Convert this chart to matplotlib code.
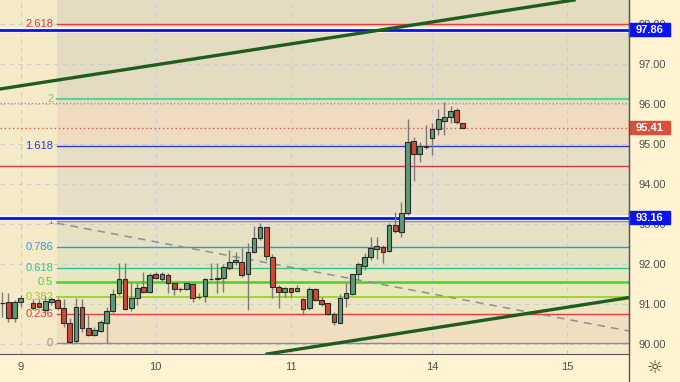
import matplotlib
matplotlib.use('Agg')
import matplotlib.pyplot as plt
from matplotlib.patches import Rectangle
from matplotlib.transforms import blended_transform_factory

plt.rcParams['font.family'] = ['Liberation Sans', 'DejaVu Sans']

# hourly candles (slot 4 is the session break)
slots = [i for i in range(76) if i != 4]
opens = [91.03, 91.05, 90.65, 91.05, 91.03, 91.03, 90.85, 91.05, 91.10, 90.90,
         90.53, 90.08, 90.93, 90.40, 90.23, 90.33, 90.53, 90.83, 91.28, 91.63,
         90.90, 91.15, 91.43, 91.30, 91.75, 91.63, 91.73, 91.53, 91.38, 91.38,
         91.50, 91.18, 91.20, 91.63, 91.65, 91.65, 91.90, 92.05, 92.05, 91.75,
         92.30, 92.65, 92.93, 92.18, 91.43, 91.30, 91.40, 91.33, 91.13, 90.90,
         91.38, 91.10, 91.03, 90.75, 90.53, 91.15, 91.25, 91.75, 91.95, 92.18,
         92.38, 92.43, 92.33, 92.98, 92.80, 93.28, 95.08, 94.75, 94.93, 95.15,
         95.38, 95.58, 95.68, 95.85, 95.53]
highs = [91.30, 91.28, 91.10, 91.23, 91.13, 91.13, 91.20, 91.18, 91.15, 91.13,
         90.65, 91.15, 91.13, 90.73, 90.43, 90.60, 90.93, 91.38, 92.03, 92.03,
         91.53, 91.53, 91.80, 91.78, 91.80, 91.80, 91.78, 91.53, 91.43, 91.55,
         91.53, 91.28, 91.65, 92.03, 92.03, 92.00, 92.35, 92.30, 92.40, 92.53,
         92.95, 93.03, 92.93, 92.25, 91.48, 91.43, 91.40, 91.48, 91.15, 91.43,
         91.40, 91.18, 91.03, 90.80, 91.25, 91.53, 91.75, 92.05, 92.28, 92.68,
         92.68, 92.48, 93.03, 93.30, 93.55, 95.63, 95.18, 95.05, 95.48, 95.53,
         95.88, 96.05, 95.95, 95.90, 95.53]
lows = [90.68, 90.55, 90.55, 90.93, 90.85, 90.90, 90.78, 90.98, 90.85, 90.43,
        90.03, 90.03, 90.30, 90.20, 90.20, 90.30, 90.03, 90.78, 91.23, 90.85,
        90.83, 90.98, 91.28, 91.28, 91.63, 91.58, 91.28, 91.23, 91.30, 91.35,
        91.05, 91.13, 91.05, 91.60, 91.28, 91.30, 91.85, 91.98, 91.68, 90.85,
        92.28, 92.60, 92.10, 91.15, 90.90, 91.18, 91.18, 91.30, 90.73, 90.85,
        91.08, 90.95, 90.73, 90.48, 90.53, 90.93, 91.23, 91.60, 91.85, 92.10,
        92.13, 92.03, 92.30, 92.78, 92.68, 93.23, 94.08, 94.55, 94.88, 94.73,
        95.23, 95.23, 95.53, 95.50, 95.41]
closes = [91.02, 90.65, 91.05, 91.15, 90.90, 90.93, 91.08, 91.13, 90.90, 90.53,
          90.05, 90.93, 90.40, 90.23, 90.35, 90.55, 90.83, 91.25, 91.63, 90.88,
          91.15, 91.40, 91.30, 91.73, 91.65, 91.75, 91.53, 91.38, 91.37, 91.53,
          91.15, 91.17, 91.63, 91.62, 91.63, 91.93, 92.05, 92.10, 91.73, 92.30,
          92.65, 92.93, 92.20, 91.43, 91.30, 91.40, 91.30, 91.40, 90.88, 91.38,
          91.10, 91.00, 90.75, 90.55, 91.15, 91.28, 91.75, 92.00, 92.18, 92.40,
          92.45, 92.30, 92.98, 92.83, 93.28, 95.05, 94.75, 94.95, 94.95, 95.38,
          95.63, 95.68, 95.83, 95.55, 95.41]

day_pos = [3, 25, 47, 70, 92]
day_labels = ['9', '10', '11', '14', '15']
price_ticks = [90, 91, 92, 93, 94, 95, 96, 97, 98]

# fibonacci extension
fib_low = 90.02
fib_high = 93.07
fib_start = 8.9
fib_levels = [0, 0.236, 0.382, 0.5, 0.618, 0.786, 1, 1.618, 2, 2.618]
fib_names = ['0', '0.236', '0.382', '0.5', '0.618', '0.786', '1', '1.618', '2', '2.618']
fib_colors = ['#8c8c8c', '#e03c3c', '#9ccc1c', '#4ccd30', '#35c490', '#3597d6',
              '#8c8c8c', '#2f3fc8', '#58d496', '#e03c3c']
fib_widths = [1, 1, 1.2, 1.8, 1, 1, 1, 1, 1.6, 1]
fib_fills = ['#efdec0', '#ece6c0', '#e8e8bd', '#e6e7c0', '#e4e4c2', '#e6e1c3',
             '#e6dec6', '#efdcc0', '#e4dcc1', '#e4dcc1']

# drawn lines
blue_lines = [97.86, 93.16]
red_line = 94.45
last_price = 95.41
high_line = 96.03
channel_top = [(-0.37, 96.375), (64.8, 97.926)]
channel_bot = [(44.4, 89.78), (102.07, 91.16)]
fib_trend = [(8.9, 93.02), (102.07, 90.325)]

bg = '#f5eac7'
panel = '#fff3d2'

fig = plt.figure(figsize=(6.8, 3.82), dpi=100, facecolor=panel)
ax = fig.add_axes([0, 28 / 382, 629 / 680, 354 / 382])
ax.set_facecolor(bg)
x0, x1 = -0.37, 102.07
ax.set_xlim(x0, x1)
ax.set_ylim(89.75, 98.6)

# fib zones
prices = [fib_low + l * (fib_high - fib_low) for l in fib_levels]
for k in range(len(prices)):
    top = prices[k + 1] if k + 1 < len(prices) else 98.6
    ax.fill_between([fib_start, x1], prices[k], top, color=fib_fills[k], lw=0, zorder=1)

# grid
for p in price_ticks:
    ax.axhline(p, color='#cbcdd6', lw=0.8, ls=(0, (4, 4)), zorder=1.5)
for d in day_pos:
    ax.axvline(d, color='#cbcdd6', lw=0.8, ls=(0, (4, 4)), zorder=1.5)

for k in range(len(prices)):
    ax.plot([fib_start, x1], [prices[k], prices[k]], color=fib_colors[k], lw=fib_widths[k], zorder=2)
    ax.text(fib_start - 0.6, prices[k], fib_names[k], color=fib_colors[k], fontsize=8,
            ha='right', va='center', zorder=2)

ax.plot([p[0] for p in fib_trend], [p[1] for p in fib_trend], color='#8f8f8f', lw=1.1,
        ls=(0, (5, 4)), zorder=2)

ax.axhline(red_line, color='#d83a3a', lw=1, zorder=2)
ax.axhline(high_line, color='#a39a88', lw=1, ls=(0, (1, 1.5)), zorder=2)
ax.axhline(last_price, color='#e05545', lw=1, ls=(0, (1, 2)), zorder=2)
for p in blue_lines:
    ax.axhline(p, color='#f4f4ff', lw=4, zorder=3)
    ax.axhline(p, color='#0a14e0', lw=2, zorder=3)

ax.axline(channel_top[0], channel_top[1], color='#1f5c1f', lw=2.4, zorder=4)
ax.axline(channel_bot[0], channel_bot[1], color='#1f5c1f', lw=2.4, zorder=4)

# candles
ax.vlines(slots, lows, highs, color='#7a7a7a', lw=1, zorder=5)
body_bottom = [min(o, c) for o, c in zip(opens, closes)]
body_height = [max(abs(c - o), 0.004) for o, c in zip(opens, closes)]
body_color = ['#5b9c74' if c >= o else '#cf4a36' for o, c in zip(opens, closes)]
ax.bar(slots, body_height, bottom=body_bottom, width=0.76, color=body_color,
       edgecolor='#2b2b2b', linewidth=0.8, zorder=6)

# axes
for s in ['top', 'left']:
    ax.spines[s].set_visible(False)
ax.spines['bottom'].set_color('#555555')
ax.spines['right'].set_color('#555555')
ax.set_xticks(day_pos)
ax.set_xticklabels(day_labels)
ax.set_yticks(price_ticks)
ax.set_yticklabels(['%.2f' % p for p in price_ticks])
ax.yaxis.tick_right()
ax.tick_params(axis='y', length=0, pad=7, labelsize=8, labelcolor='#4d4d4d')
ax.tick_params(axis='x', length=0, pad=6, labelsize=8, labelcolor='#4d4d4d')

blend = blended_transform_factory(ax.transAxes, ax.transData)
w = 41 / 629
for p, col in [(97.86, '#0a14f0'), (93.16, '#0a14f0'), (last_price, '#d9503c')]:
    ax.add_patch(Rectangle((1.0, p - 0.165), w, 0.33, transform=blend, color=col,
                           clip_on=False, zorder=20))
    ax.text(1.0 + w / 2, p, '%.2f' % p, transform=blend, color='white', fontsize=8,
            fontweight='bold', ha='center', va='center', zorder=21, clip_on=False)

fig.add_artist(plt.Line2D([629 / 680, 629 / 680], [0, 1], color='#555555', lw=1))
fig.text(655 / 680, 14 / 382, '\u263c', ha='center', va='center', fontsize=13,
         color='#333333', family='DejaVu Sans')

fig.savefig('out.png', dpi=100, facecolor=panel)
